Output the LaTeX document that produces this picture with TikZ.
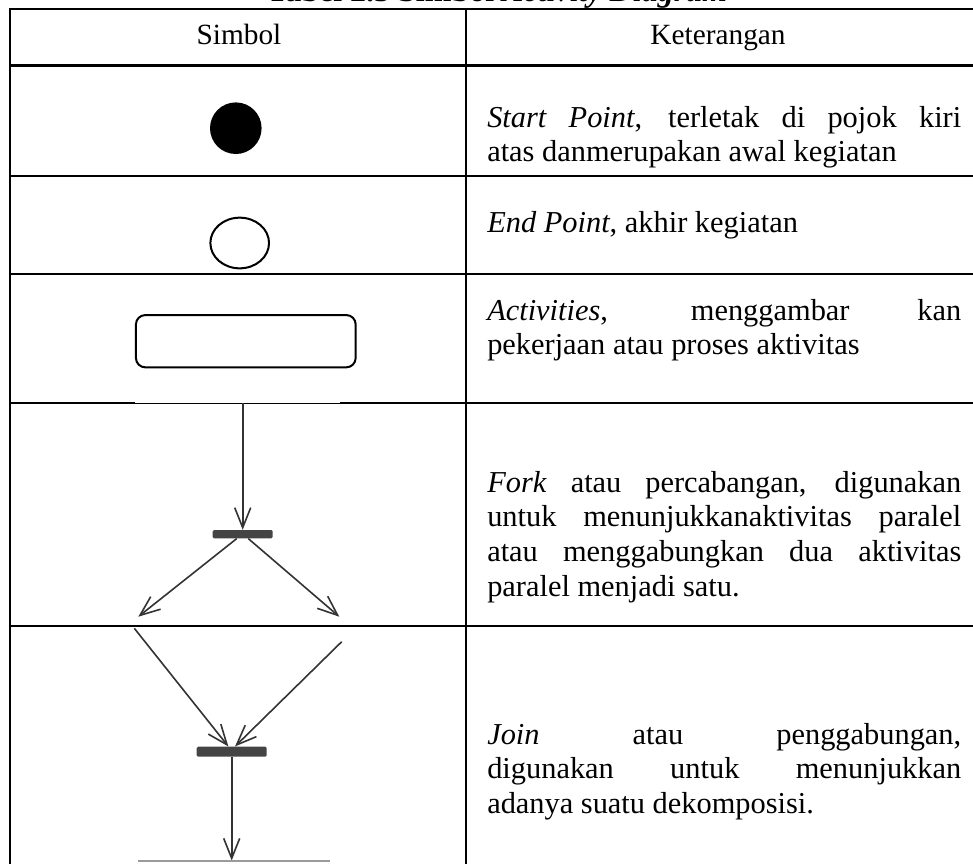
\documentclass[tikz,border=0pt]{standalone}
\usepackage{fontspec}
\setmainfont{Liberation Serif}
\usetikzlibrary{arrows.meta,shapes.geometric}
\definecolor{flowc}{HTML}{333333}
\definecolor{barc}{HTML}{444444}
\definecolor{basec}{HTML}{9A9A9A}
\newcommand\jline[1]{\makebox[\linewidth][s]{#1}}
\begin{document}
\begin{tikzpicture}[x=0.75pt,y=-0.75pt,
  tline/.style={line width=1.8pt},
  thinline/.style={line width=0.6pt},
  txt/.style={inner sep=0pt,anchor=base west,font=\fontsize{22.8pt}{26.1pt}\selectfont},
  hdr/.style={inner sep=0pt,anchor=base,font=\fontsize{22pt}{26.25pt}\selectfont},
  flow/.style={draw=flowc,line width=1.2pt,-{Straight Barb[length=15pt,width=12pt]}},
  barnode/.style={draw=none,fill=barc,rounded corners=1pt,inner sep=0pt}]
\clip (0,0) rectangle (973,864);
% title (cut off at the top)
\node[hdr,font=\fontsize{24pt}{28pt}\selectfont\bfseries] (title) at (497,1.5) {Tabel 2.3 Simbol \textit{Activity Diagram}};
% table lines
\draw[tline] (10,9) -- (973,9);
\draw[tline] (10,65.5) -- (973,65.5);
\draw[tline] (10,176) -- (973,176);
\draw[tline] (10,274) -- (973,274);
\draw[tline] (10,403) -- (135,403);
\draw[thinline] (135,403) -- (340,403);
\draw[tline] (340,403) -- (973,403);
\draw[tline] (10,626) -- (973,626);
\draw[tline] (10,8) -- (10,864);
\draw[tline] (466,8) -- (466,864);
% header
\node[hdr] (hsimbol) at (239,44) {Simbol};
\node[hdr] (hket) at (718,44) {Keterangan};
% symbols
\node[circle,fill=black,inner sep=0pt,minimum size=38.7pt] (start) at (235.8,128.2) {};
\node[ellipse,draw,line width=1.5pt,inner sep=0pt,minimum width=44pt,minimum height=38pt] (end) at (239.7,243) {};
\node[rectangle,draw,line width=1.5pt,rounded corners=7pt,inner sep=0pt,minimum width=164.8pt,minimum height=39.2pt] (act) at (245.8,341.2) {};
% fork
\node[barnode,minimum width=45pt,minimum height=6.2pt] (forkbar) at (242.7,534.2) {};
\coordinate (forkin) at (242.7,403);
\coordinate (forkl) at (138.3,616.7);
\coordinate (forkr) at (339.3,616.7);
\draw[flow] (forkin) -- (forkbar.north);
\draw[flow] ([xshift=-4.5pt]forkbar.south) -- (forkl);
\draw[flow] ([xshift=4.2pt]forkbar.south) -- (forkr);
% join
\node[barnode,minimum width=52.5pt,minimum height=7.5pt] (joinbar) at (231.7,751.7) {};
\coordinate (joinl) at (134.3,628.3);
\coordinate (joinr) at (341.7,641.7);
\coordinate (joinout) at (231.7,860.5);
\coordinate (baseL) at (138.3,861);
\coordinate (baseR) at (330,861);
\draw[flow] (joinl) -- ([xshift=-2.5pt]joinbar.north);
\draw[flow] (joinr) -- ([xshift=2.5pt]joinbar.north);
\draw[flow] (joinbar.south) -- (joinout);
\draw[draw=basec,line width=1.1pt] (baseL) -- (baseR);
% descriptions
\node[txt] (tstart) at (487,127) {\parbox[t]{355.5pt}{\jline{\textit{Start Point}, terletak di pojok kiri}\par atas danmerupakan awal kegiatan}};
\node[txt] (tend) at (487,232) {\textit{End Point}, akhir kegiatan};
\node[txt] (tact) at (487,320) {\parbox[t]{355.5pt}{\jline{\textit{Activities}, menggambar kan}\par pekerjaan atau proses aktivitas}};
\node[txt] (tfork) at (487,492) {\parbox[t]{355.5pt}{\jline{\textit{Fork} atau percabangan, digunakan}\par\jline{untuk menunjukkanaktivitas paralel}\par\jline{atau menggabungkan dua aktivitas}\par paralel menjadi satu.}};
\node[txt] (tjoin) at (487,744) {\parbox[t]{355.5pt}{\jline{\textit{Join} atau penggabungan,}\par\jline{digunakan untuk menunjukkan}\par adanya suatu dekomposisi.}};
\end{tikzpicture}
\end{document}
